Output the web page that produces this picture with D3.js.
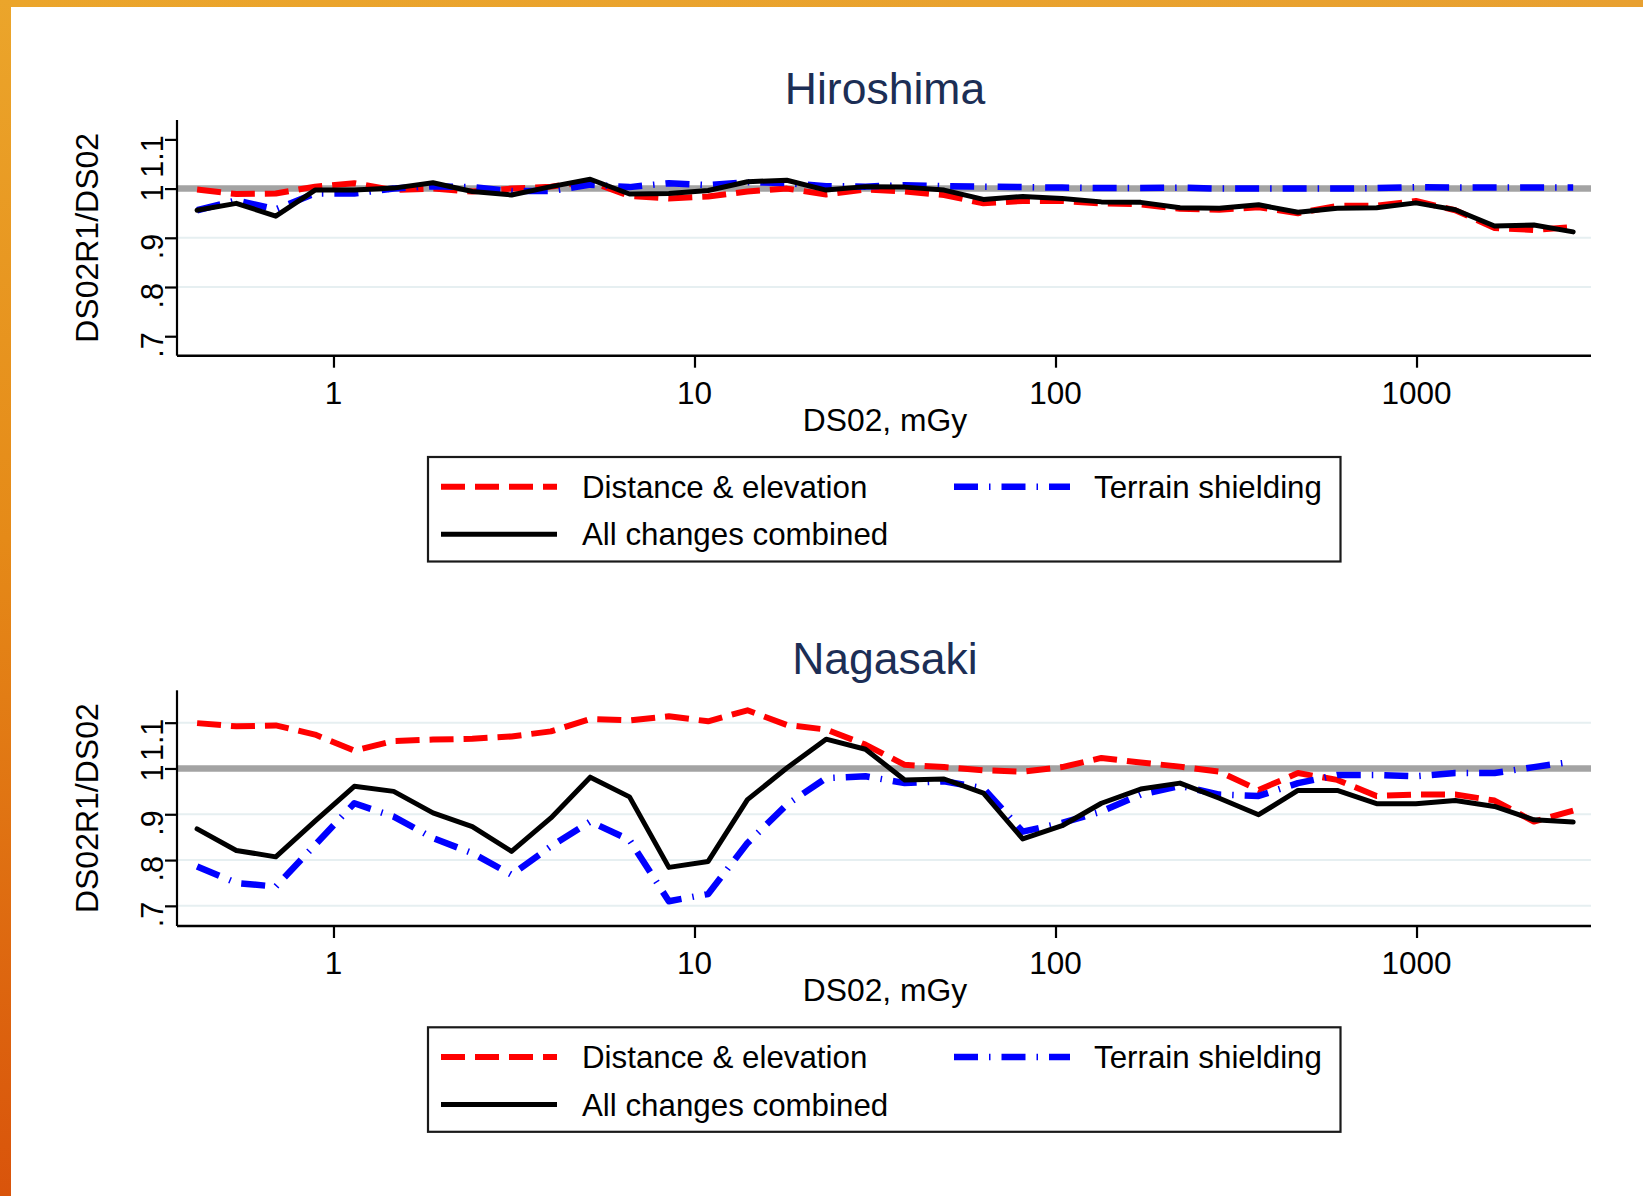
<!DOCTYPE html>
<html>
<head>
<meta charset="utf-8">
<script src="https://cdn.jsdelivr.net/npm/d3@7"></script>
<style>
  html, body { margin: 0; padding: 0; background: #ffffff; }
  svg { display: block; }
  text { font-family: "Liberation Sans", Arial, sans-serif; }
</style>
</head>
<body>
<svg id="chart" width="1643" height="1196"></svg>
<script>
// Dose bins (DS02, mGy), shared by both cities
const doses = [0.419, 0.538, 0.692, 0.889, 1.142, 1.468, 1.886, 2.424, 3.114, 4.002,
  5.143, 6.607, 8.492, 10.91, 14.02, 18.02, 23.15, 29.75, 38.23, 49.13,
  63.14, 81.13, 104.3, 134.0, 172.2, 221.2, 284.3, 365.3, 469.5, 603.3,
  775.2, 996.1, 1280, 1645, 2114, 2716];

// Hiroshima ratios DS02R1/DS02
const hiroDistance = [0.998, 0.989, 0.990, 1.004, 1.011, 0.997, 1.000, 0.994, 1.000, 1.004,
  1.014, 0.985, 0.980, 0.984, 0.994, 1.000, 0.988, 0.998, 0.994, 0.987,
  0.970, 0.975, 0.975, 0.970, 0.968, 0.959, 0.957, 0.962, 0.950, 0.965,
  0.965, 0.975, 0.956, 0.920, 0.916, 0.922];
const hiroTerrain = [0.956, 0.976, 0.958, 0.990, 0.990, 1.000, 1.005, 1.003, 0.995, 0.995,
  1.008, 1.003, 1.011, 1.007, 1.013, 1.011, 1.005, 1.004, 1.007, 1.005,
  1.004, 1.003, 1.002, 1.001, 1.001, 1.002, 1.000, 1.000, 1.000, 1.000,
  1.001, 1.003, 1.002, 1.002, 1.002, 1.002];
const hiroCombined = [0.956, 0.970, 0.944, 0.997, 0.997, 1.001, 1.012, 0.994, 0.987, 1.004,
  1.019, 0.989, 0.990, 0.996, 1.014, 1.017, 0.997, 1.004, 1.003, 0.997,
  0.978, 0.984, 0.980, 0.973, 0.972, 0.961, 0.960, 0.967, 0.952, 0.960,
  0.961, 0.971, 0.957, 0.924, 0.926, 0.912];

// Nagasaki ratios DS02R1/DS02
const nagaDistance = [1.099, 1.092, 1.094, 1.074, 1.039, 1.060, 1.063, 1.065, 1.070, 1.081,
  1.108, 1.105, 1.114, 1.103, 1.127, 1.095, 1.085, 1.052, 1.008, 1.003,
  0.996, 0.993, 1.003, 1.023, 1.013, 1.004, 0.993, 0.953, 0.990, 0.975,
  0.940, 0.943, 0.943, 0.930, 0.884, 0.908];
const nagaTerrain = [0.786, 0.750, 0.742, 0.833, 0.924, 0.895, 0.848, 0.815, 0.768, 0.830,
  0.884, 0.844, 0.710, 0.726, 0.837, 0.921, 0.979, 0.983, 0.968, 0.972,
  0.957, 0.862, 0.881, 0.906, 0.943, 0.962, 0.943, 0.940, 0.968, 0.986,
  0.986, 0.983, 0.990, 0.990, 1.003, 1.015];
const nagaCombined = [0.868, 0.821, 0.807, 0.885, 0.961, 0.950, 0.903, 0.873, 0.819, 0.892,
  0.981, 0.938, 0.784, 0.797, 0.932, 1.001, 1.064, 1.042, 0.975, 0.977,
  0.946, 0.846, 0.875, 0.924, 0.955, 0.968, 0.935, 0.899, 0.952, 0.952,
  0.923, 0.923, 0.930, 0.917, 0.888, 0.883];

const xTicks = [1, 10, 100, 1000];
const yTicks = [0.7, 0.8, 0.9, 1, 1.1];
const yTickLabels = [".7", ".8", ".9", "1", "1.1"];
const seriesNames = ["Distance & elevation", "Terrain shielding", "All changes combined"];

// Line styles per series
const styles = [
  { color: "#ff0000", width: 6, dash: "24 10" },
  { color: "#0000ff", width: 6.5, dash: "24 11 1.5 11" },
  { color: "#000000", width: 5, dash: null }
];

const panels = [
  { title: "Hiroshima", offset: 0, yDomain: [0.6604, 1.1394], grid: [0.8, 0.9],
    series: [hiroDistance, hiroTerrain, hiroCombined] },
  { title: "Nagasaki", offset: 570.3, yDomain: [0.656, 1.1707], grid: [0.7, 0.8, 0.9, 1.1],
    series: [nagaDistance, nagaTerrain, nagaCombined] }
];

const svg = d3.select("#chart");

// Orange frame along the top and left edges
const defs = svg.append("defs");
const gl = defs.append("linearGradient").attr("id", "leftBand")
  .attr("x1", 0).attr("y1", 0).attr("x2", 0).attr("y2", 1);
gl.append("stop").attr("offset", "0%").attr("stop-color", "#eba52b");
gl.append("stop").attr("offset", "45%").attr("stop-color", "#e58a18");
gl.append("stop").attr("offset", "100%").attr("stop-color", "#d9540b");
const gt = defs.append("linearGradient").attr("id", "topBand")
  .attr("x1", 0).attr("y1", 0).attr("x2", 1).attr("y2", 0);
gt.append("stop").attr("offset", "0%").attr("stop-color", "#eba52b");
gt.append("stop").attr("offset", "100%").attr("stop-color", "#e8a030");
svg.append("rect").attr("x", 0).attr("y", 0).attr("width", 1643).attr("height", 7).attr("fill", "url(#topBand)");
svg.append("rect").attr("x", 0).attr("y", 0).attr("width", 11).attr("height", 1196).attr("fill", "url(#leftBand)");

const plotLeft = 177, plotRight = 1591, plotTop = 120, plotBottom = 355.7;
const x = d3.scaleLog().domain([0.3686, 3043]).range([plotLeft, plotRight]);
const centerX = 885;

panels.forEach(p => {
  const g = svg.append("g").attr("transform", `translate(0,${p.offset})`);
  const y = d3.scaleLinear().domain(p.yDomain).range([plotBottom, plotTop]);

  // Title
  g.append("text").attr("x", centerX).attr("y", 104).attr("text-anchor", "middle")
    .attr("font-size", 44.5).attr("fill", "#1c2e55").text(p.title);

  // Grid lines
  g.selectAll(".grid").data(p.grid).enter().append("line")
    .attr("x1", plotLeft).attr("x2", plotRight)
    .attr("y1", d => y(d)).attr("y2", d => y(d))
    .attr("stroke", "#e6eff1").attr("stroke-width", 2);

  // Reference line at ratio 1
  g.append("line").attr("x1", plotLeft).attr("x2", plotRight)
    .attr("y1", y(1)).attr("y2", y(1))
    .attr("stroke", "#a3a3a3").attr("stroke-width", 6.5);

  // Data lines
  const line = d3.line().x((d, i) => x(doses[i])).y(d => y(d));
  p.series.forEach((vals, si) => {
    const st = styles[si];
    g.append("path").datum(vals).attr("d", line)
      .attr("fill", "none").attr("stroke", st.color).attr("stroke-width", st.width)
      .attr("stroke-dasharray", st.dash).attr("stroke-linejoin", "round")
      .attr("stroke-linecap", si === 2 ? "round" : "butt");
  });

  // Y axis
  const yAxis = d3.axisLeft(y).tickValues(yTicks).tickSize(12).tickFormat("");
  const ya = g.append("g").attr("transform", `translate(${plotLeft},0)`).call(yAxis);
  ya.select(".domain").attr("d", `M0,${plotTop}V${plotBottom}`).attr("stroke", "#000").attr("stroke-width", 2.2);
  ya.selectAll(".tick line").attr("stroke", "#000").attr("stroke-width", 2.2);
  g.selectAll(".ylab").data(yTicks).enter().append("text")
    .attr("transform", (d) => `translate(163,${y(d) - 4}) rotate(-90)`)
    .attr("text-anchor", "end").attr("font-size", 30.5).attr("fill", "#000")
    .text((d, i) => yTickLabels[i]);

  // X axis
  const xAxis = d3.axisBottom(x).tickValues(xTicks).tickSize(12).tickFormat("");
  const xa = g.append("g").attr("transform", `translate(0,${plotBottom})`).call(xAxis);
  xa.select(".domain").attr("d", `M${plotLeft},0H${plotRight}`).attr("stroke", "#000").attr("stroke-width", 2.4);
  xa.selectAll(".tick line").attr("stroke", "#000").attr("stroke-width", 2.2);
  g.selectAll(".xlab").data(xTicks).enter().append("text")
    .attr("x", d => x(d)).attr("y", plotBottom + 48).attr("text-anchor", "middle")
    .attr("font-size", 31.5).attr("fill", "#000").text(d => d3.format("d")(d));

  // Axis titles
  g.append("text").attr("x", centerX).attr("y", plotBottom + 75).attr("text-anchor", "middle")
    .attr("font-size", 31.8).attr("fill", "#000").text("DS02, mGy");
  g.append("text").attr("transform", `translate(97.5,${(plotTop + plotBottom) / 2}) rotate(-90)`)
    .attr("text-anchor", "middle").attr("font-size", 32).attr("fill", "#000").text("DS02R1/DS02");

  // Legend
  const lg = g.append("g");
  lg.append("rect").attr("x", 428).attr("y", 457).attr("width", 912.5).attr("height", 104.5)
    .attr("fill", "#fff").attr("stroke", "#1a1a1a").attr("stroke-width", 2.2);
  const items = [
    { sx: 441, tx: 582, cy: 486.7 },
    { sx: 954, tx: 1094, cy: 486.7 },
    { sx: 441, tx: 582, cy: 534.3 }
  ];
  items.forEach((it, i) => {
    const st = styles[i];
    lg.append("line").attr("x1", it.sx).attr("x2", it.sx + 116).attr("y1", it.cy).attr("y2", it.cy)
      .attr("stroke", st.color).attr("stroke-width", st.width).attr("stroke-dasharray", st.dash);
    lg.append("text").attr("x", it.tx).attr("y", it.cy + 11).attr("font-size", 31.3)
      .attr("fill", "#000").text(seriesNames[i]);
  });
});
</script>
</body>
</html>
